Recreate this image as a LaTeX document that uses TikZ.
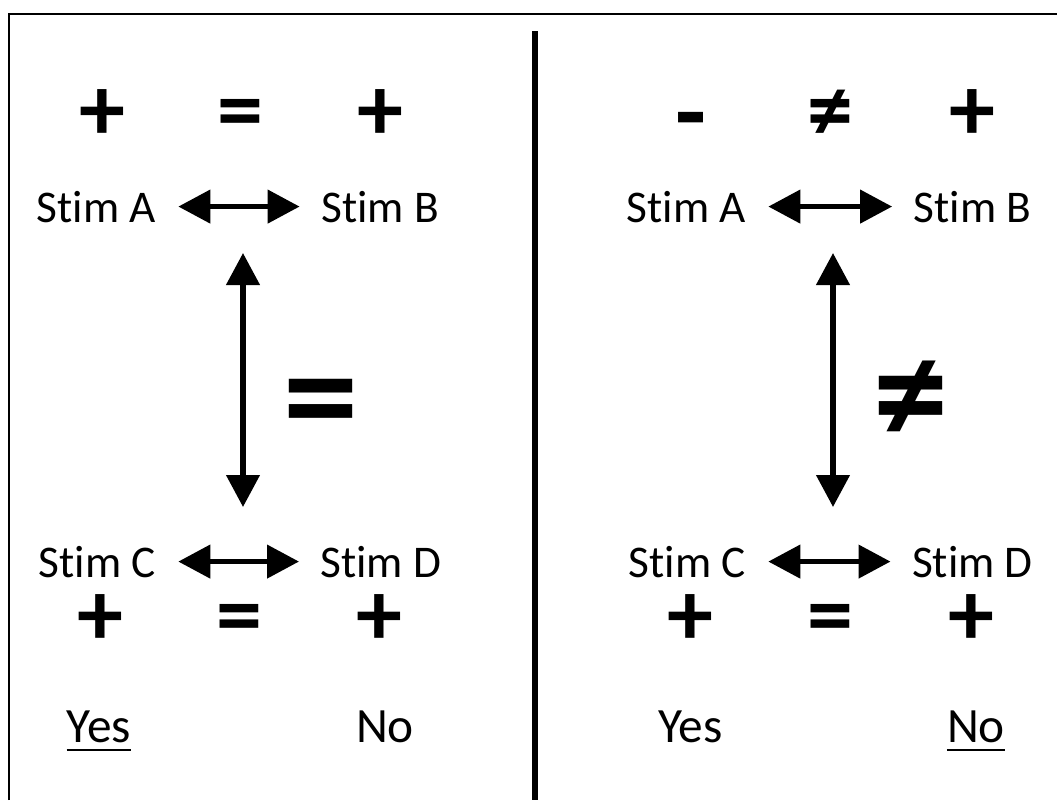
\documentclass[tikz,border=0pt]{standalone}
\usepackage{fontspec}
\setmainfont{Carlito}[Ligatures=NoCommon]
\usetikzlibrary{arrows.meta}
\begin{document}
\begin{tikzpicture}[x=0.75pt,y=-0.75pt,
  stim/.style={font=\fontsize{34}{40}\selectfont, inner sep=0pt, anchor=base},
  ans/.style={font=\fontsize{37}{42}\selectfont, inner sep=0pt, anchor=base},
  sym/.style={font=\fontsize{69}{80}\selectfont\bfseries, inner sep=0pt},
  minus/.style={font=\fontsize{76}{86}\selectfont\bfseries, inner sep=0pt},
  bigsym/.style={font=\fontsize{113}{120}\selectfont\bfseries, inner sep=0pt},
  dbl/.style={line width=4pt, {Triangle[length=24pt,width=24.5pt]}-{Triangle[length=24pt,width=24.5pt]}},
  hgap/.style={shorten <=16.5pt, shorten >=16pt},
  frame/.style={line width=1.9pt},
  uline/.style={line width=1.8pt},
]
\useasboundingbox (0,0) rectangle (1057,800);
% frame and divider
\draw[frame] (9,800) -- (9,14) -- (1057,14);
\draw[line width=4.5pt] (535,31) -- (535,800);

% ---------- left panel ----------
\node[sym] (lp1) at (102,115.5) {+};
\node[sym] (le1) at (240,120) {=};
\node[sym] (lp2) at (380,115.5) {+};

\node[stim] (la) at (96.5,222) {Stim A};
\node[stim] (lb) at (380,222) {Stim B};
\draw[dbl,hgap] (la.east) -- (lb.west);

\coordinate (lvt) at (243,253);
\coordinate (lvb) at (243,507);
\draw[dbl] (lvt) -- (lvb);
\node[bigsym] (lbig) at (321,412.5) {=};

\node[stim] (lc) at (97.5,577) {Stim C};
\node[stim] (ld) at (381,577) {Stim D};
\draw[dbl,hgap] (lc.east) -- (ld.west);

\node[sym] (lp3) at (100,620.5) {+};
\node[sym] (le2) at (239,625) {=};
\node[sym] (lp4) at (379,620.5) {+};

\node[ans] (lyes) at (99,742) {Yes};
\node[ans] (lno) at (385,742) {No};
\draw[uline] ([yshift=-6pt]lyes.base west) -- ([yshift=-6pt]lyes.base east);

% ---------- right panel ----------
\node[minus] (rm1) at (691,129) {-};
\node[sym] (rn1) at (830,115) {≠};
\node[sym] (rp1) at (972,115.5) {+};

\node[stim] (ra) at (686.5,222) {Stim A};
\node[stim] (rb) at (972.5,222) {Stim B};
\draw[dbl,hgap] (ra.east) -- (rb.west);

\coordinate (rvt) at (833,253);
\coordinate (rvb) at (833,507);
\draw[dbl] (rvt) -- (rvb);
\node[bigsym] (rbig) at (911,402.5) {≠};

\node[stim] (rc) at (687.5,577) {Stim C};
\node[stim] (rd) at (972.5,577) {Stim D};
\draw[dbl,hgap] (rc.east) -- (rd.west);

\node[sym] (rp2) at (690,620.5) {+};
\node[sym] (re2) at (830,625) {=};
\node[sym] (rp3) at (971,620.5) {+};

\node[ans] (ryes) at (690.5,742) {Yes};
\node[ans] (rno) at (976,742) {No};
\draw[uline] ([yshift=-6pt]rno.base west) -- ([yshift=-6pt]rno.base east);
\end{tikzpicture}
\end{document}
